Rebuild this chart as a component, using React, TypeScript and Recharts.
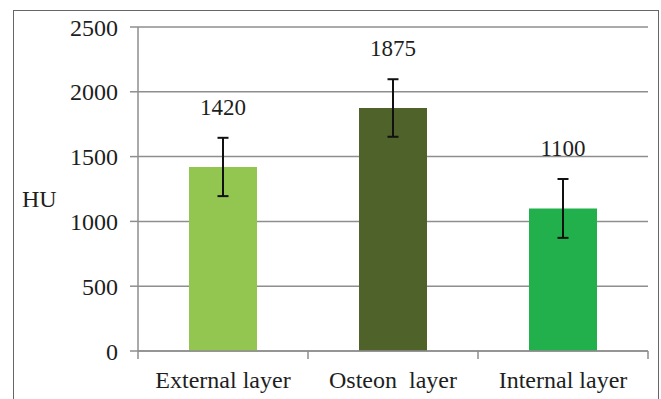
import { Bar, BarChart, CartesianGrid, Cell, ErrorBar, LabelList, XAxis, YAxis } from "recharts";

const layers = ["External layer", "Osteon  layer", "Internal layer"];
const meanHU = [1420, 1875, 1100];
const errHU = [225, 222, 227];
const yTicks = [0, 500, 1000, 1500, 2000, 2500];
const colors = ["#92c651", "#4f6229", "#21b04b"];

const data = layers.map((layer, i) => ({ layer, hu: meanHU[i], err: errHU[i] }));

const font = "Liberation Serif";
const gray = "#8e8e8e";
const ink = "#1e1e1e";
const halfBand = (648 - 138) / layers.length / 2;

function CategoryTick(props: any) {
  const { x, y, payload, index } = props;
  return (
    <g>
      <line x1={x - halfBand} x2={x - halfBand} y1={y - 8} y2={y} stroke={gray} strokeWidth={1.5} />
      {index === layers.length - 1 && (
        <line x1={x + halfBand} x2={x + halfBand} y1={y - 8} y2={y} stroke={gray} strokeWidth={1.5} />
      )}
      <text x={x} y={y + 29} textAnchor="middle" fill={ink} style={{ fontFamily: font, fontSize: 24, whiteSpace: "pre" }}>
        {payload.value}
      </text>
    </g>
  );
}

function ValueLabel(props: any) {
  const { x, y, width, value } = props;
  return (
    <text x={x + width / 2} y={y - 52} textAnchor="middle" fill={ink} style={{ fontFamily: font, fontSize: 23 }}>
      {value}
    </text>
  );
}

export default function App() {
  return (
    <div
      style={{
        position: "absolute",
        left: 0,
        top: 0,
        width: 661,
        height: 399,
        overflow: "hidden",
        background: "#fff",
        fontFamily: font,
      }}
    >
      <div
        style={{
          position: "absolute",
          left: 13,
          top: 10,
          width: 644,
          height: 420,
          border: "1.5px solid #666",
          borderBottom: "none",
        }}
      />
      <BarChart width={661} height={399} data={data} margin={{ top: 27, right: 13, bottom: 0, left: 0 }}>
        <CartesianGrid vertical={false} stroke={gray} strokeWidth={1.5} />
        <XAxis
          dataKey="layer"
          height={48}
          tickLine={false}
          tickSize={8}
          tickMargin={0}
          axisLine={{ stroke: gray, strokeWidth: 1.5 }}
          tick={<CategoryTick />}
          interval={0}
        />
        <YAxis
          width={138}
          domain={[0, 2500]}
          ticks={yTicks}
          tickSize={8}
          tickMargin={12}
          axisLine={{ stroke: gray, strokeWidth: 1.5 }}
          tickLine={{ stroke: gray, strokeWidth: 1.5 }}
          tick={{ style: { fontFamily: font, fontSize: 24 }, fill: ink }}
          label={{ value: "HU", position: "insideLeft", offset: 22, dy: 9, style: { fontFamily: font, fontSize: 24 }, fill: ink }}
        />
        <Bar dataKey="hu" barSize={68} isAnimationActive={false}>
          {data.map((d, i) => (
            <Cell key={d.layer} fill={colors[i]} />
          ))}
          <ErrorBar dataKey="err" width={5.5} stroke="#111" strokeWidth={2} isAnimationActive={false} />
          <LabelList dataKey="hu" content={<ValueLabel />} />
        </Bar>
      </BarChart>
    </div>
  );
}
